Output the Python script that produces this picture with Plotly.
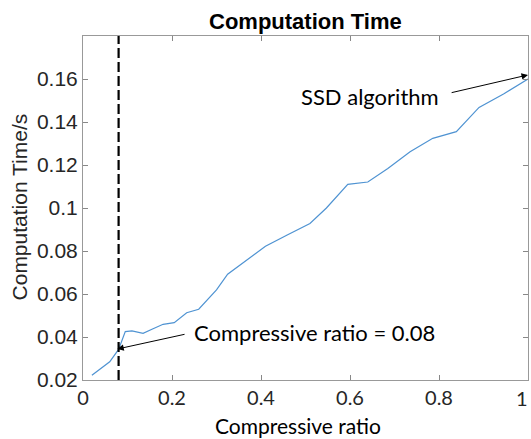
import plotly.graph_objects as go

ratio = [0.02, 0.04, 0.06, 0.08, 0.095, 0.11, 0.135, 0.155, 0.18, 0.205, 0.233, 0.26,
         0.28, 0.30, 0.325, 0.37, 0.41, 0.46, 0.51, 0.547, 0.595, 0.64, 0.685, 0.735,
         0.786, 0.839, 0.89, 0.945, 1.0]
comp_time = [0.0222, 0.0254, 0.0285, 0.0342, 0.0425, 0.0428, 0.0417, 0.0436, 0.0459, 0.0467,
             0.0513, 0.0529, 0.0572, 0.0619, 0.0692, 0.0763, 0.0822, 0.0876, 0.0928, 0.1000,
             0.1110, 0.1121, 0.1184, 0.1262, 0.1324, 0.1355, 0.1468, 0.1530, 0.1600]

x_ticks = [0, 0.2, 0.4, 0.6, 0.8, 1]
x_tick_labels = ["0", "0.2", "0.4", "0.6", "0.8", "1"]
y_ticks = [0.02, 0.04, 0.06, 0.08, 0.1, 0.12, 0.14, 0.16]
y_tick_labels = ["0.02", "0.04", "0.06", "0.08", "0.1", "0.12", "0.14", "0.16"]

chosen_ratio = 0.08
ssd_point = (1.0, 0.1619)
ssd_tail = (0.825, 0.1535)
chosen_point = (0.077, 0.0344)
chosen_tail = (0.2316, 0.0414)

fig = go.Figure()
fig.add_trace(go.Scatter(x=ratio, y=comp_time, mode="lines",
                         line=dict(color="#4f93d2", width=1.2), showlegend=False, cliponaxis=False))
fig.add_trace(go.Scatter(x=[chosen_ratio, chosen_ratio], y=[0.02, 0.18], mode="lines",
                         line=dict(color="black", width=2.2, dash="10px,4px"), showlegend=False))

sans = "Liberation Sans, Arial, sans-serif"
cal = "Lato, sans-serif"

for (hx, hy), (tx, ty) in [(ssd_point, ssd_tail), (chosen_point, chosen_tail)]:
    fig.add_annotation(x=hx, y=hy, ax=tx, ay=ty, axref="x", ayref="y", xref="x", yref="y",
                       text="", showarrow=True, arrowhead=2, arrowsize=1.3, arrowwidth=1,
                       arrowcolor="black")

fig.add_annotation(x=0.645, y=0.1518, xref="x", yref="y", text="SSD algorithm",
                   showarrow=False, font=dict(family=cal, size=22, color="black"))
fig.add_annotation(x=0.521, y=0.0419, xref="x", yref="y", text="Compressive ratio = 0.08",
                   showarrow=False, font=dict(family=cal, size=22, color="black"))

# title and axis titles
fig.add_annotation(x=0.501, y=1.0436, xref="paper", yref="paper", text="<b>Computation Time</b>",
                   showarrow=False, xanchor="center", yanchor="middle",
                   font=dict(family=sans, size=22, color="black"))
fig.add_annotation(x=-0.1427, y=0.503, xref="paper", yref="paper", text="Computation Time/s",
                   showarrow=False, textangle=-90, xanchor="center", yanchor="middle",
                   font=dict(family=sans, size=21, color="#262626"))
fig.add_annotation(x=0.483, y=-0.131, xref="paper", yref="paper", text="Compressive ratio",
                   showarrow=False, xanchor="center", yanchor="middle",
                   font=dict(family=cal, size=21, color="black"))

# last x tick label placed inside the page so it is not cut at the right edge
fig.add_annotation(x=x_ticks[-1], y=0, xref="x", yref="paper", text=x_tick_labels[-1],
                   showarrow=False, xanchor="right", yanchor="top", xshift=2, yshift=-4,
                   font=dict(family=cal, size=20, color="#262626"))

fig.update_layout(
    width=531, height=439,
    margin=dict(l=83, r=3, t=36, b=59, autoexpand=False),
    paper_bgcolor="white", plot_bgcolor="white",
    xaxis=dict(range=[0, 1], tickvals=x_ticks, ticktext=x_tick_labels[:-1] + [""], ticks="inside",
               ticklen=5, tickcolor="#888", showline=True, linecolor="#999", linewidth=1,
               mirror="ticks", showgrid=False, zeroline=False, automargin=False,
               tickfont=dict(family=cal, size=20, color="#262626")),
    yaxis=dict(range=[0.02, 0.18], tickvals=y_ticks, ticktext=y_tick_labels, ticks="inside",
               ticklen=5, tickcolor="#888", showline=True, linecolor="#999", linewidth=1,
               mirror="ticks", showgrid=False, zeroline=False, automargin=False,
               tickfont=dict(family=sans, size=21, color="#262626")),
)

fig.write_html("out.html", config={"displayModeBar": False},
               post_script="document.body.style.margin='0';document.body.style.overflow='hidden';")
